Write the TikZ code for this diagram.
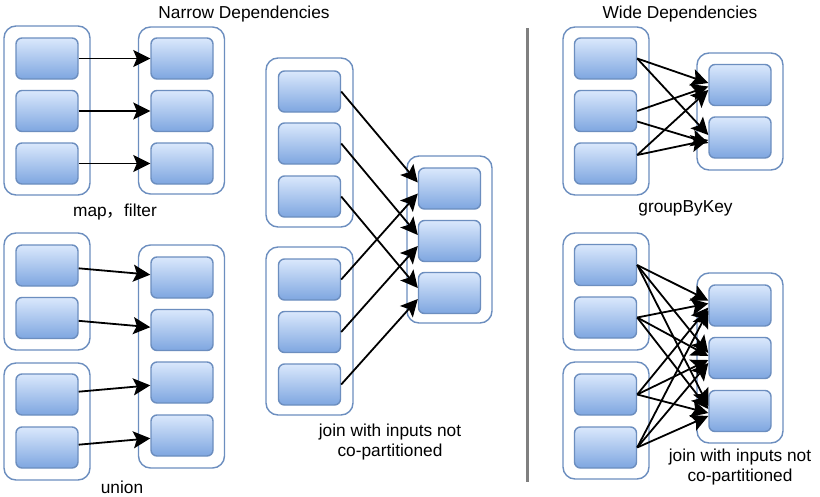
\documentclass[tikz,border=0pt]{standalone}
\usepackage{fontspec}
\setmainfont{Liberation Sans}
\newfontfamily\cjk{Noto Sans CJK SC}
\usetikzlibrary{arrows.meta}
\definecolor{bord}{HTML}{6C8EBF}
\definecolor{ftop}{HTML}{DAE8FC}
\definecolor{fbot}{HTML}{7EA6E0}
\definecolor{sepgray}{HTML}{808080}
\newcommand\pbox[3]{\node[part] (#1) at (#2,#3) {};}
\begin{document}
\begin{tikzpicture}[x=1pt,y=-1pt,
  part/.style={draw=bord, line width=1.4pt, rounded corners=6pt, top color=ftop, bottom color=fbot, minimum width=62pt, minimum height=41pt, inner sep=0pt},
  grp/.style={draw=bord, line width=1.4pt, rounded corners=12pt, fill=white, inner sep=0pt, minimum width=86pt},
  arr/.style={draw=black, line width=1.8pt, -{Stealth[length=17pt,width=17pt,inset=3.5pt]}},
  lbl/.style={font=\fontsize{17.3}{20}\selectfont, inner sep=0pt, align=center}]
\useasboundingbox (0,0) rectangle (820,496);

% titles
\node[lbl] (t1) at (244,14) {Narrow Dependencies};
\node[lbl] (t2) at (680,14) {Wide Dependencies};

% separator
\coordinate (s1) at (527,28);
\coordinate (s2) at (527,482);
\draw[line width=3pt, sepgray] (s1) -- (s2);

% ---------- map, filter ----------
\node[grp, minimum height=169pt] (mg1) at (47,110.5) {};
\node[grp, minimum height=167pt] (mg2) at (181.5,110.5) {};
\pbox{m1}{47}{58.5}\pbox{m2}{47}{111}\pbox{m3}{47}{163.5}
\pbox{n1}{182}{58.5}\pbox{n2}{182}{111}\pbox{n3}{182}{163.5}
\draw[arr] (m1) -- (n1);
\draw[arr] (m2) -- (n2);
\draw[arr] (m3) -- (n3);
\node[lbl] (lmap) at (115,212) {map{\cjk ，}filter};

% ---------- union ----------
\node[grp, minimum height=117pt] (ug1) at (47,291.5) {};
\node[grp, minimum height=117pt] (ug2) at (47,421.5) {};
\node[grp, minimum height=223pt] (ug3) at (181.5,356.5) {};
\pbox{u1}{47}{265.5}\pbox{u2}{47}{318}\pbox{u3}{47}{394.5}\pbox{u4}{47}{447.5}
\pbox{v1}{182}{277.5}\pbox{v2}{182}{330}\pbox{v3}{182}{382.5}\pbox{v4}{182}{435.5}
\draw[arr] (u1) -- (v1);
\draw[arr] (u2) -- (v2);
\draw[arr] (u3) -- (v3);
\draw[arr] (u4) -- (v4);
\node[lbl] (lunion) at (122,487) {union};

% ---------- join (narrow) ----------
\node[grp, minimum width=87pt, minimum height=169pt] (jg1) at (309.5,142.5) {};
\node[grp, minimum width=87pt, minimum height=168pt] (jg2) at (309.5,331) {};
\node[grp, minimum width=85pt, minimum height=167pt] (jg3) at (449.5,239.5) {};
\pbox{a1}{309.5}{91.5}\pbox{a2}{309.5}{143.5}\pbox{a3}{309.5}{196.5}
\pbox{b1}{309.5}{279.5}\pbox{b2}{309.5}{332}\pbox{b3}{309.5}{384.5}
\pbox{c1}{449.5}{188.5}\pbox{c2}{449.5}{241}\pbox{c3}{449.5}{293}
\draw[arr] (a1.east) -- ([yshift=6pt]c1.west);
\draw[arr] (a2.east) -- ([yshift=6pt]c2.west);
\draw[arr] (a3.east) -- ([yshift=5pt]c3.west);
\draw[arr] (b1.east) -- ([yshift=-5pt]c1.west);
\draw[arr] (b2.east) -- ([yshift=-5pt]c2.west);
\draw[arr] (b3.east) -- ([yshift=-6pt]c3.west);
\node[lbl] (ljoin1) at (390,442) {join with inputs not\\co-partitioned};

% ---------- groupByKey ----------
\node[grp, minimum height=168pt] (wg1) at (606,111) {};
\node[grp, minimum height=117pt] (wg2) at (740,111.5) {};
\pbox{s1}{605.5}{58.5}\pbox{s2}{605.5}{111}\pbox{s3}{605.5}{163.5}
\pbox{g1}{740}{85}\pbox{g2}{740}{137.5}
\draw[arr] (s1.east) -- ([yshift=2pt]g1.west);
\draw[arr] (s1.east) -- ([yshift=2.5pt]g2.west);
\draw[arr] (s2.east) -- ([yshift=-1.5pt]g1.west);
\draw[arr] ([yshift=-10.5pt]s2.east) -- ([yshift=-5.5pt]g2.west);
\draw[arr] ([yshift=8.5pt]s3.east) -- ([yshift=-5pt]g1.west);
\draw[arr] ([yshift=8.5pt]s3.east) -- ([yshift=-2.5pt]g2.west);
\node[lbl] (lgbk) at (685.5,208) {groupByKey};

% ---------- join (wide) ----------
\node[grp, minimum height=117pt] (xg1) at (606,291.5) {};
\node[grp, minimum height=117pt] (xg2) at (606,420.5) {};
\node[grp, minimum height=170pt] (xg3) at (740,358) {};
\pbox{p1}{605.5}{265}\pbox{p2}{605.5}{317.5}\pbox{p3}{605.5}{394.5}\pbox{p4}{605.5}{447.5}
\pbox{r1}{740}{305.5}\pbox{r2}{740}{358}\pbox{r3}{740}{411}
\foreach \p/\d in {p1/5,p2/2,p3/-2,p4/-5}{
  \foreach \r in {r1,r2,r3}{
    \draw[arr] (\p.east) -- ([yshift=\d pt]\r.west);
  }
}
\node[lbl] (ljoin2) at (740,467.5) {join with inputs not\\co-partitioned};
\end{tikzpicture}
\end{document}
